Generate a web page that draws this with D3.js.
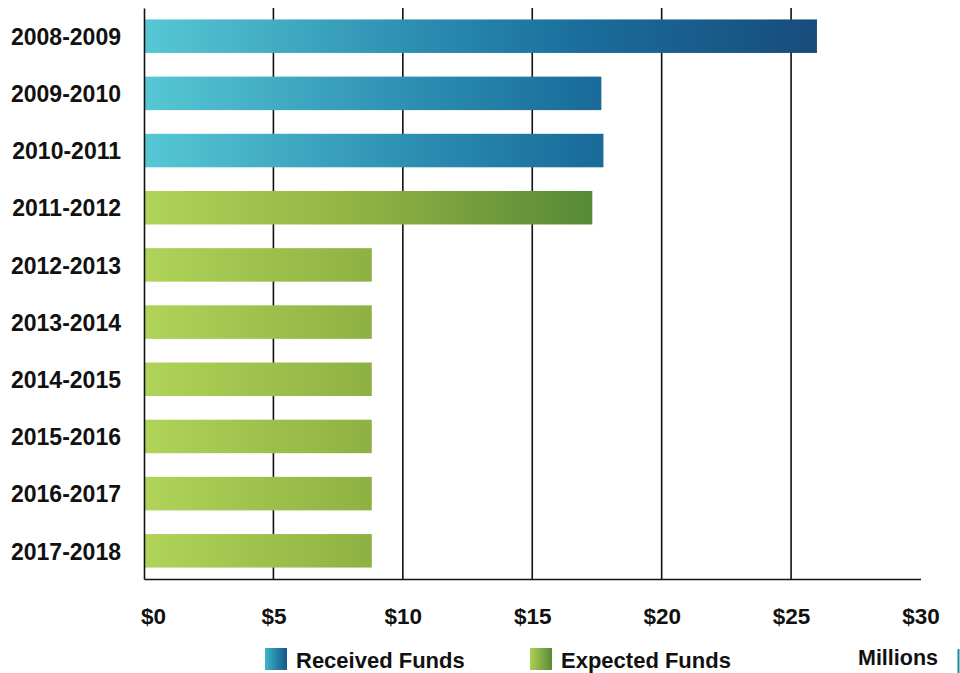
<!DOCTYPE html>
<html>
<head>
<meta charset="utf-8">
<script src="https://cdn.jsdelivr.net/npm/d3@7"></script>
<style>
  body { margin: 0; background: #fff; }
  text { font-family: "Liberation Sans", Arial, sans-serif; font-weight: bold; fill: #111; }
</style>
</head>
<body>
<svg id="chart" width="960" height="673"></svg>
<script>
const years = ["2008-2009", "2009-2010", "2010-2011", "2011-2012", "2012-2013",
  "2013-2014", "2014-2015", "2015-2016", "2016-2017", "2017-2018"]
const funds = [26.0, 17.67, 17.75, 17.32, 8.8, 8.8, 8.8, 8.8, 8.8, 8.8]
const kinds = ["received", "received", "received", "expected", "expected",
  "expected", "expected", "expected", "expected", "expected"]
const ticks = [0, 5, 10, 15, 20, 25, 30]
const legendNames = ["Received Funds", "Expected Funds"]

const svg = d3.select("#chart")

let x = d3.scaleLinear().domain([0, 30]).range([144, 920.5])
let y = d3.scaleBand().domain(years).range([8, 579])
  .paddingInner(0.414).paddingOuter(0.2)

// gradients
let defs = svg.append("defs")
function grad(id, stops, x1, x2) {
  let g = defs.append("linearGradient").attr("id", id)
  if (x1 != null) {
    g.attr("gradientUnits", "userSpaceOnUse")
      .attr("x1", x1).attr("x2", x2).attr("y1", 0).attr("y2", 0)
  }
  stops.forEach(s => g.append("stop").attr("offset", s[0]).attr("stop-color", s[1]))
}
grad("received", [[0, "#56c8d4"], [0.4, "#2c8eb1"], [0.65, "#1a6d9b"], [1, "#174b7a"]], x(0), x(26.2))
grad("expected", [[0, "#b0d358"], [0.5, "#8eb143"], [1, "#568836"]], x(0), x(17.5))
grad("received-key", [[0, "#3cb4c8"], [1, "#16568a"]])
grad("expected-key", [[0, "#acd055"], [1, "#5a8a38"]])

// grid lines
svg.append("g").selectAll("line").data(ticks.slice(1, -1))
  .enter().append("line")
    .attr("x1", d => x(d)).attr("x2", d => x(d))
    .attr("y1", 8).attr("y2", 579)
    .attr("stroke", "#111").attr("stroke-width", 1.6)

// bars
svg.append("g").selectAll("rect").data(years)
  .enter().append("rect")
    .attr("x", x(0))
    .attr("y", d => y(d))
    .attr("width", (d, i) => x(funds[i]) - x(0))
    .attr("height", y.bandwidth())
    .attr("fill", (d, i) => "url(#" + kinds[i] + ")")

// axes
let xAxis = svg.append("g").attr("transform", "translate(0,579)")
  .call(d3.axisBottom(x).tickValues(ticks).tickSize(0).tickPadding(29)
    .tickFormat(d => "$" + d))
xAxis.select(".domain").attr("stroke", "#111").attr("stroke-width", 1.6)
xAxis.selectAll("text").style("font-size", "22.5px").style("font-family", null)
  .attr("fill", "#111")
xAxis.selectAll(".tick text").filter(d => d == 0).attr("dx", 9)

let yAxis = svg.append("g").attr("transform", "translate(144,0)")
  .call(d3.axisLeft(y).tickSize(0).tickPadding(23))
yAxis.select(".domain").attr("stroke", "#111").attr("stroke-width", 1.6)
yAxis.selectAll("text").style("font-size", "23px").style("font-family", null)
  .attr("fill", "#111").attr("dy", "0.38em")

// legend
let legend = svg.append("g")
let keyX = [265, 530]
legendNames.forEach((name, i) => {
  legend.append("rect")
    .attr("x", keyX[i]).attr("y", 648)
    .attr("width", 22).attr("height", 22)
    .attr("fill", "url(#" + (i == 0 ? "received" : "expected") + "-key)")
  legend.append("text")
    .attr("x", keyX[i] + 31).attr("y", 668)
    .style("font-size", "22px")
    .text(name)
})

svg.append("text")
  .attr("x", 938).attr("y", 665)
  .attr("text-anchor", "end")
  .style("font-size", "21.5px")
  .text("Millions")

svg.append("line")
  .attr("x1", 958.5).attr("x2", 958.5).attr("y1", 649).attr("y2", 673)
  .attr("stroke", "#1b8b9c").attr("stroke-width", 2)
</script>
</body>
</html>
